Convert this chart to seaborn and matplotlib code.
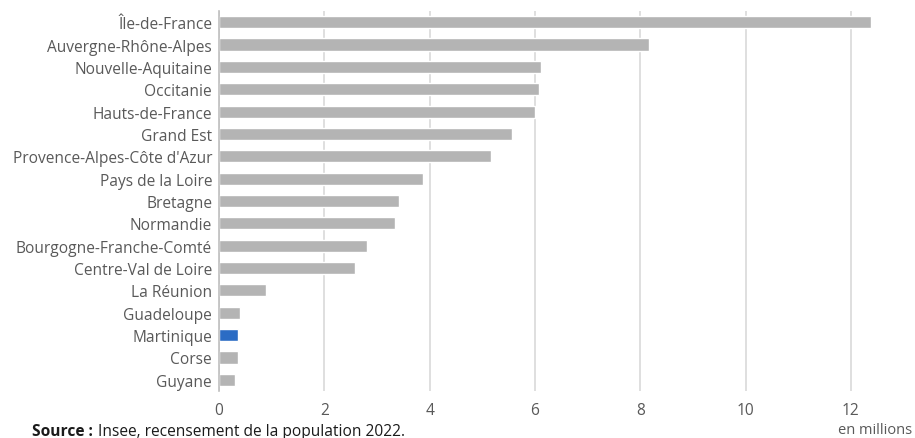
import matplotlib
matplotlib.use("Agg")
import matplotlib.pyplot as plt
import seaborn as sns
import pandas as pd

regions = ["Île-de-France", "Auvergne-Rhône-Alpes", "Nouvelle-Aquitaine", "Occitanie",
           "Hauts-de-France", "Grand Est", "Provence-Alpes-Côte d'Azur", "Pays de la Loire",
           "Bretagne", "Normandie", "Bourgogne-Franche-Comté", "Centre-Val de Loire",
           "La Réunion", "Guadeloupe", "Martinique", "Corse", "Guyane"]
population = [12.38, 8.17, 6.12, 6.08, 6.00, 5.57, 5.17, 3.88, 3.42, 3.35, 2.81, 2.59,
              0.89, 0.40, 0.36, 0.36, 0.30]
highlight = "Martinique"
xticks = [0, 2, 4, 6, 8, 10, 12]

sns.set_theme(style="white")
plt.rcParams['font.family'] = ['Open Sans', 'DejaVu Sans']

df = pd.DataFrame({"region": regions, "pop": population})
palette = {r: ("#2B6CC4" if r == highlight else "#B4B4B4") for r in regions}

fig = plt.figure(figsize=(9.15, 4.39), dpi=100)
ax = fig.add_axes([219/915, 1 - 392/439, (915-219)/915, (392-12)/439])

sns.barplot(data=df, y="region", x="pop", hue="region", palette=palette,
            orient="h", width=0.54, legend=False, ax=ax, saturation=1)

ax.set_xlim(0, (915-219)/52.65)
ax.set_xticks(xticks)
ax.set_xticklabels([str(t) for t in xticks])
ax.set_xlabel("")
ax.set_ylabel("")
ax.grid(axis="x", color="#D9D9D9", linewidth=1.2)
ax.set_axisbelow(True)
for s in ["top", "right", "bottom"]:
    ax.spines[s].set_visible(False)
ax.spines["left"].set_color("#BFBFBF")
ax.spines["left"].set_linewidth(1.2)
ax.tick_params(axis="both", length=0, labelsize=11.2, labelcolor="#595959")
ax.tick_params(axis="x", pad=8)
ax.tick_params(axis="y", pad=5)

fig.text(32/915, 1 - 432/439, "Source :", fontsize=11.2, fontweight="bold",
         color="#1A1A1A", va="center", ha="left")
fig.text(98/915, 1 - 432/439, "Insee, recensement de la population 2022.", fontsize=11.2,
         color="#1A1A1A", va="center", ha="left")
fig.text(912/915, 1 - 431/439, "en millions", fontsize=10.5, color="#595959",
         va="center", ha="right")

fig.savefig("out.png", dpi=100)
